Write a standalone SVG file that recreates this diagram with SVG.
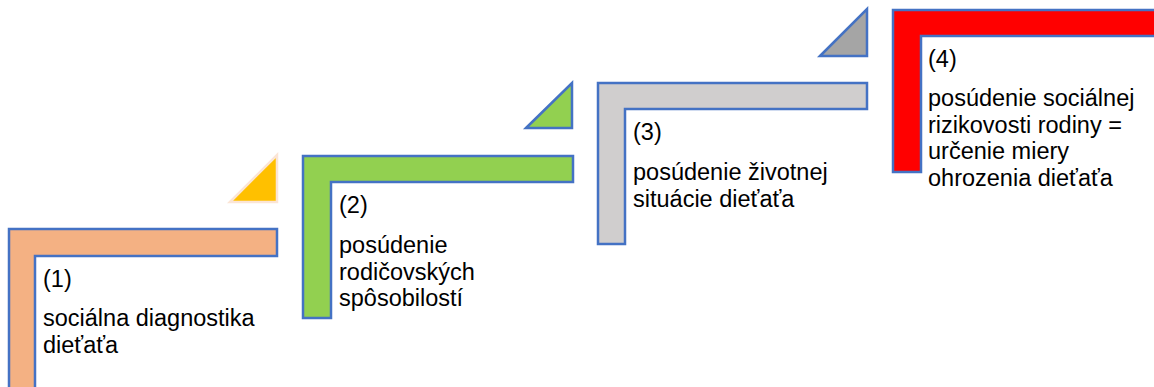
<svg xmlns="http://www.w3.org/2000/svg" width="1154" height="387" viewBox="0 0 1154 387">
  <style>
    .frame { stroke: #4472C4; stroke-width: 2.5; stroke-linejoin: miter; }
    .tri { stroke: #4472C4; stroke-width: 2.5; stroke-linejoin: miter; }
    .lbl { font-family: "Liberation Sans", Arial, sans-serif; font-size: 23.5px; fill: #000000; }
  </style>
  <rect width="1154" height="387" fill="#FFFFFF"/>
  <g id="connectors">
    <polygon id="arrow1" class="tri" points="230,202 277,155 277,202" fill="#FFC000" style="stroke:#FBE5D6"/>
    <polygon id="arrow2" class="tri" points="526,128 572,83 572,128" fill="#92D050"/>
    <polygon id="arrow3" class="tri" points="820,56 867,9 867,56" fill="#A5A5A5"/>
  </g>
  <g id="node1">
    <polygon class="frame" points="9,229 277,229 277,256 35,256 35,392 9,392" fill="#F4B183"/>
    <text class="lbl" x="43" y="287">(1)</text>
    <text class="lbl" x="43" y="326">sociálna diagnostika<tspan x="43" dy="26.5">dieťaťa</tspan></text>
  </g>
  <g id="node2">
    <polygon class="frame" points="303,156 573,156 573,182 331,182 331,318 303,318" fill="#92D050"/>
    <text class="lbl" x="339" y="213">(2)</text>
    <text class="lbl" x="339" y="253">posúdenie<tspan x="339" dy="26.5">rodičovských</tspan><tspan x="339" dy="26.5">spôsobilostí</tspan></text>
  </g>
  <g id="node3">
    <polygon class="frame" points="598,83 867,83 867,109 625,109 625,244 598,244" fill="#D0CECE"/>
    <text class="lbl" x="633" y="140">(3)</text>
    <text class="lbl" x="633" y="180">posúdenie životnej<tspan x="633" dy="26.5">situácie dieťaťa</tspan></text>
  </g>
  <g id="node4">
    <polygon class="frame" points="893,10 1162,10 1162,36 921,36 921,172 893,172" fill="#FF0000"/>
    <text class="lbl" x="928" y="67">(4)</text>
    <text class="lbl" x="928" y="106">posúdenie sociálnej<tspan x="928" dy="26.5">rizikovosti rodiny =</tspan><tspan x="928" dy="26.5">určenie miery</tspan><tspan x="928" dy="26.5">ohrozenia dieťaťa</tspan></text>
  </g>
</svg>
